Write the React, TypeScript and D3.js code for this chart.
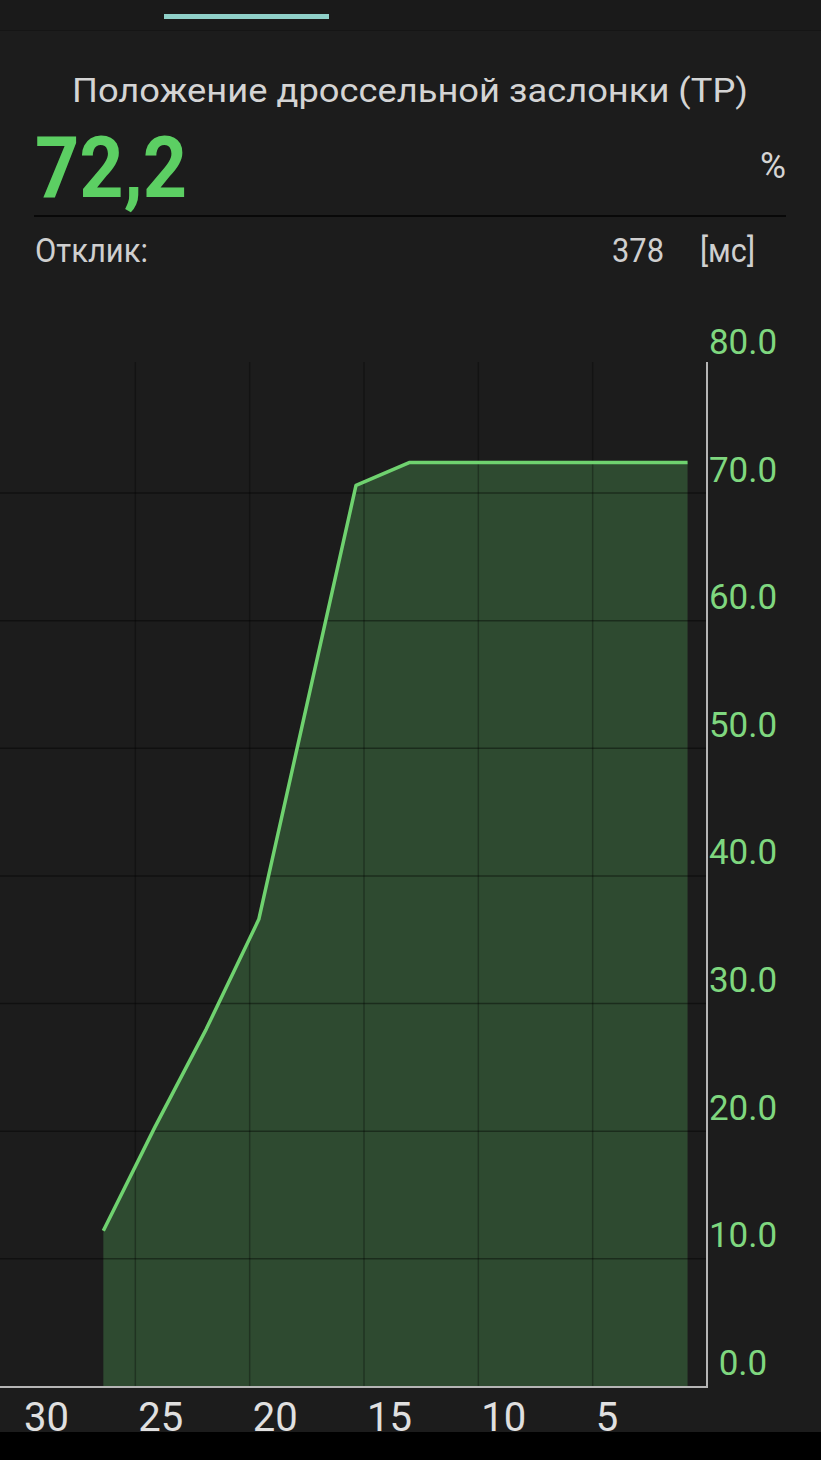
import React from "react";
import * as d3 from "d3";

const W = 821;
const H = 1460;

const title = "Положение дроссельной заслонки (TP)";
const currentValue = "72,2";
const unit = "%";
const responseLabel = "Отклик:";
const responseValue = "378";
const responseUnit = "[мс]";

// time (seconds ago) and throttle position (%)
const times = [26.4, 24.15, 21.9, 19.6, 15.35, 13.0, 0.85];
const values = [12.2, 20.3, 28.0, 36.6, 70.6, 72.4, 72.4];

const yTicks = [0, 10, 20, 30, 40, 50, 60, 70, 80];
const yGrid = [10, 20, 30, 40, 50, 60, 70];
const xTicks = [30, 25, 20, 15, 10, 5];
const xGrid = [25, 20, 15, 10, 5];

export default function App() {
  const x = d3.scaleLinear().domain([0, 30]).range([707, 21]);
  const y = d3.scaleLinear().domain([0, 80]).range([1386.5, 365.4]);
  const pts = times.map((t, i) => [t, values[i]] as [number, number]);
  const area = d3
    .area<[number, number]>()
    .x((d) => x(d[0]))
    .y0(y(0))
    .y1((d) => y(d[1]));
  const line = d3
    .line<[number, number]>()
    .x((d) => x(d[0]))
    .y((d) => y(d[1]));
  const font = "Roboto, 'Noto Sans', sans-serif";
  return (
    <svg
      width={W}
      height={H}
      style={{ position: "absolute", left: 0, top: 0, display: "block" }}
      fontFamily={font}
    >
      <rect x={0} y={0} width={W} height={H} fill="#1c1c1c" />
      <rect x={0} y={0} width={W} height={30} fill="#1a1a1a" />
      <line x1={0} x2={W} y1={30.5} y2={30.5} stroke="#151515" strokeWidth={1} />
      <rect x={164} y={14} width={165} height={5} fill="#8fd0c8" />

      <text x={410} y={102} textAnchor="middle" fontSize={34} fill="#d4d4d4" textLength={676} lengthAdjust="spacingAndGlyphs">
        {title}
      </text>
      <text x={35} y={197} fontSize={86} fontWeight={700} fill="#5ccf63" textLength={152} lengthAdjust="spacingAndGlyphs">
        {currentValue}
      </text>
      <text x={760} y={178} fontSize={36} fill="#d4d4d4" textLength={26} lengthAdjust="spacingAndGlyphs">
        {unit}
      </text>
      <line x1={34} x2={786} y1={216} y2={216} stroke="#080808" strokeWidth={2} />
      <text x={35} y={262} fontSize={33} fill="#cfcfcf" textLength={113} lengthAdjust="spacingAndGlyphs">
        {responseLabel}
      </text>
      <text x={612} y={262} fontSize={33} fill="#cfcfcf" textLength={52} lengthAdjust="spacingAndGlyphs">
        {responseValue}
      </text>
      <text x={700} y={262} fontSize={33} fill="#cfcfcf" textLength={55} lengthAdjust="spacingAndGlyphs">
        {responseUnit}
      </text>

      <path d={area(pts) || ""} fill="#2e4a30" />

      {yGrid.map((v) => (
        <line key={"hg" + v} x1={0} x2={707} y1={y(v)} y2={y(v)} stroke="#000" strokeOpacity={0.4} strokeWidth={1.5} />
      ))}
      {xGrid.map((t) => (
        <line key={"vg" + t} x1={x(t)} x2={x(t)} y1={362} y2={y(0)} stroke="#000" strokeOpacity={0.3} strokeWidth={1.5} />
      ))}

      <path d={line(pts) || ""} fill="none" stroke="#6fd26f" strokeWidth={3.5} strokeLinejoin="round" />

      <line x1={707} x2={707} y1={362} y2={y(0) + 1} stroke="#b5b5b5" strokeWidth={2} />
      <line x1={0} x2={708} y1={y(0) + 0.5} y2={y(0) + 0.5} stroke="#b5b5b5" strokeWidth={2} />

      {yTicks.map((v) => (
        <text key={"yl" + v} x={743} y={y(v) - 11.5} textAnchor="middle" fontSize={35} fill="#7fd77f">
          {v.toFixed(1)}
        </text>
      ))}

      <rect x={0} y={1432} width={W} height={H - 1432} fill="#000" />

      {xTicks.map((t) => (
        <text key={"xl" + t} x={x(t) + 3} y={1431} fontSize={40} fill="#e0e0e0">
          {t}
        </text>
      ))}
    </svg>
  );
}
